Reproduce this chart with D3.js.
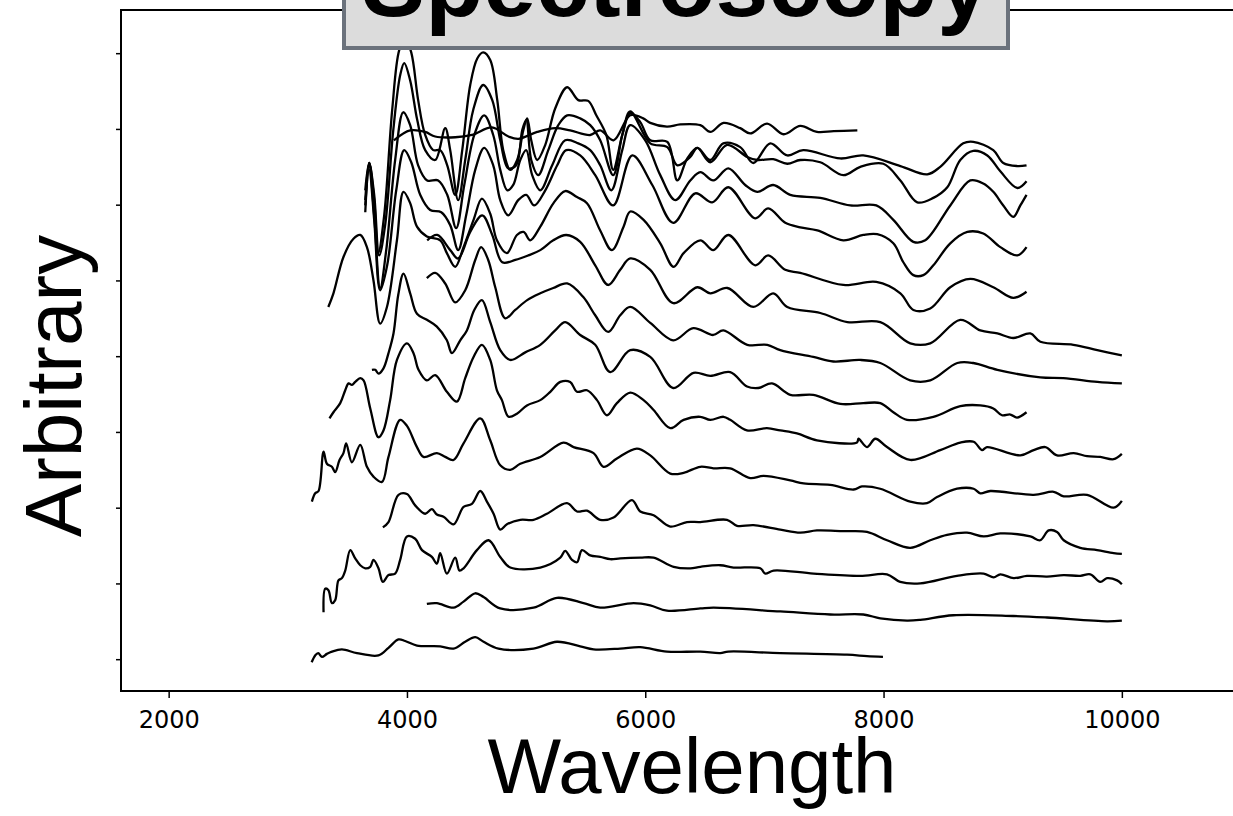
<!DOCTYPE html>
<html>
<head>
<meta charset="utf-8">
<script src="https://cdn.jsdelivr.net/npm/d3@7"></script>
<style>
  body { margin: 0; background: #fff; }
  svg { display: block; }
  .spec { fill: none; stroke: #000; stroke-width: 2.3px; stroke-linejoin: round; }
  .tick text { font-family: "DejaVu Sans", sans-serif; font-size: 24px; fill: #000; }
</style>
</head>
<body>
<svg id="chart" width="1233" height="816"></svg>
<script>
// each spectrum: [wavelength, flux + offset] (arbitrary units), top to bottom
var spec01 = [[3890,6.85],[4027,6.98],[4153,6.96],[4237,6.90],[4405,6.89],[4545,6.92],[4713,7.02],[4852,6.90],[4936,6.87],[5093,6.96],[5244,7.01],[5370,6.98],[5538,6.92],[5622,6.98],[5734,6.85],[5874,7.18],[5983,7.14],[6042,7.08],[6182,7.03],[6294,7.06],[6462,7.05],[6546,6.96],[6657,7.08],[6797,7.01],[6881,6.94],[7022,7.07],[7161,6.93],[7301,7.04],[7441,6.96],[7581,6.97],[7780,6.98]];

var spec02 = [[3650,6.06],[3683,6.55],[3725,6.06],[3759,5.36],[3809,5.86],[3876,7.25],[3935,8.04],[3985,8.20],[4036,8.01],[4094,7.38],[4153,6.92],[4220,6.72],[4279,6.72],[4338,6.52],[4405,6.13],[4464,6.72],[4531,7.58],[4590,7.93],[4640,8.01],[4699,7.91],[4758,7.38],[4808,6.72],[4867,6.46],[4925,6.59],[4976,6.98],[5009,7.14],[5043,6.85],[5093,6.59],[5161,6.79],[5244,7.27],[5345,7.55],[5438,7.38],[5521,7.37],[5589,7.18],[5673,6.92],[5731,6.46],[5807,6.92],[5874,7.21],[5958,7.09],[6042,6.85],[6185,6.83],[6269,6.32],[6353,6.61],[6437,6.75],[6546,6.59],[6655,6.81],[6797,6.76],[6907,6.55],[7049,6.81],[7192,6.65],[7326,6.72],[7637,6.61],[7830,6.65],[8141,6.51],[8367,6.40],[8476,6.50],[8669,6.81],[8753,6.83],[8921,6.72],[9005,6.55],[9123,6.51],[9200,6.52]];

var spec03 = [[3650,6.19],[3683,6.55],[3725,6.13],[3767,5.33],[3817,5.73],[3885,6.98],[3943,7.71],[3977,7.87],[4027,7.64],[4086,7.12],[4153,6.72],[4237,6.59],[4321,7.01],[4363,6.72],[4430,6.06],[4489,6.59],[4556,7.25],[4640,7.58],[4716,7.38],[4783,6.85],[4850,6.48],[4917,6.52],[4967,6.98],[5001,7.12],[5043,6.59],[5102,6.39],[5186,6.72],[5270,7.05],[5345,7.18],[5454,7.14],[5538,7.05],[5622,6.85],[5731,6.39],[5807,6.92],[5874,7.23],[6042,6.81],[6185,6.76],[6269,6.52],[6378,6.63],[6437,6.75],[6546,6.56],[6688,6.79],[6856,6.63],[6940,6.59],[7074,6.60],[7192,6.54],[7301,6.59],[7469,6.56],[7662,6.39],[7805,6.50],[7998,6.54],[8141,6.32],[8283,6.03],[8418,6.09],[8535,6.23],[8644,6.59],[8753,6.71],[8871,6.65],[8980,6.44],[9123,6.22],[9200,6.31]];

var spec04 = [[3650,5.90],[3683,6.55],[3725,5.86],[3775,4.90],[3826,5.40],[3901,6.59],[3969,7.22],[4027,7.05],[4094,6.52],[4170,6.32],[4262,6.32],[4338,6.13],[4413,5.69],[4481,6.26],[4565,6.92],[4648,7.18],[4724,6.92],[4783,6.46],[4842,6.19],[4892,6.26],[4951,6.59],[5001,6.72],[5051,6.39],[5119,6.19],[5219,6.52],[5328,6.85],[5438,6.81],[5538,6.72],[5622,6.52],[5715,6.19],[5807,6.72],[5874,7.05],[6000,6.85],[6126,6.39],[6252,6.06],[6378,6.32],[6462,6.43],[6571,6.32],[6697,6.48],[6839,6.26],[6940,6.17],[7074,6.26],[7217,6.13],[7469,6.09],[7721,5.99],[7939,5.99],[8082,5.80],[8250,5.51],[8350,5.53],[8560,5.99],[8728,6.32],[8837,6.28],[8921,6.17],[9005,5.99],[9089,5.84],[9148,5.99],[9200,6.13]];

var spec05 = [[3650,5.99],[3683,6.46],[3725,5.80],[3775,4.87],[3834,5.20],[3910,6.19],[3977,6.72],[4036,6.56],[4111,6.13],[4195,5.93],[4288,5.90],[4363,5.73],[4430,5.40],[4497,5.86],[4573,6.46],[4648,6.75],[4724,6.52],[4783,6.06],[4850,5.86],[4934,6.06],[5001,6.13],[5068,5.99],[5161,6.19],[5261,6.52],[5337,6.72],[5454,6.65],[5580,6.39],[5731,5.99],[5891,6.65],[6059,6.26],[6235,5.76],[6420,6.15],[6562,6.03],[6697,6.23],[6923,5.82],[7032,5.95],[7175,5.76],[7301,5.70],[7444,5.66],[7662,5.53],[7830,5.60],[7947,5.61],[8082,5.49],[8166,5.24],[8250,5.07],[8334,5.07],[8418,5.20],[8560,5.49],[8703,5.64],[8837,5.62],[8980,5.44],[9123,5.33],[9200,5.44]];

var spec06 = [[3340,4.65],[3383,4.83],[3467,5.31],[3551,5.55],[3608,5.60],[3664,5.44],[3719,5.00],[3775,4.43],[3832,4.65],[3916,5.53],[3971,6.17],[4027,6.02],[4084,5.71],[4167,5.58],[4279,5.53],[4335,5.36],[4405,5.18],[4475,5.44],[4559,5.80],[4629,6.08],[4699,5.88],[4755,5.53],[4839,5.36],[4923,5.60],[4979,5.64],[5035,5.53],[5119,5.71],[5230,6.02],[5328,6.18],[5427,6.10],[5511,6.02],[5622,5.66],[5720,5.40],[5818,5.71],[5874,5.91],[5986,5.80],[6126,5.49],[6238,5.18],[6322,5.36],[6462,5.53],[6571,5.40],[6697,5.60],[6923,5.20],[7032,5.33],[7175,5.14],[7301,5.10],[7662,4.94],[7939,4.98],[8141,4.83],[8250,4.61],[8392,4.63],[8560,4.91],[8728,5.02],[8921,4.91],[9089,4.77],[9200,4.85]];

var spec07 = [[4170,5.53],[4254,5.60],[4363,5.40],[4430,5.29],[4531,5.64],[4632,5.86],[4716,5.60],[4800,5.24],[4909,5.27],[5018,5.33],[5119,5.40],[5228,5.53],[5337,5.60],[5454,5.51],[5580,5.20],[5689,4.94],[5790,5.14],[5874,5.29],[6042,5.14],[6235,4.70],[6437,4.91],[6546,4.83],[6689,4.90],[6907,4.65],[7074,4.83],[7192,4.65],[7469,4.57],[7696,4.45],[7973,4.45],[8224,4.17],[8392,4.17],[8644,4.48],[8812,4.34],[8955,4.30],[9089,4.24],[9232,4.30],[9316,4.19],[9593,4.15],[9794,4.08],[10000,4.01]];

var spec08 = [[4167,5.03],[4237,5.10],[4321,4.96],[4405,4.71],[4489,4.87],[4573,5.27],[4623,5.44],[4682,5.27],[4741,4.91],[4825,4.50],[4909,4.61],[5009,4.74],[5119,4.83],[5228,4.90],[5345,4.96],[5480,4.78],[5580,4.54],[5689,4.32],[5790,4.54],[5874,4.65],[6042,4.44],[6235,4.21],[6403,4.37],[6571,4.28],[6655,4.34],[6856,4.15],[7024,4.15],[7133,4.08],[7410,3.99],[7578,3.93],[7805,3.95],[7973,3.91],[8224,3.68],[8392,3.68],[8619,3.91],[8753,3.91],[8955,3.82],[9316,3.72],[9509,3.71],[9794,3.66],[10000,3.64]];

var spec09 = [[3706,3.82],[3734,3.82],[3761,3.77],[3803,3.84],[3845,4.04],[3887,4.30],[3927,4.81],[3971,5.09],[4027,4.83],[4084,4.56],[4167,4.48],[4251,4.39],[4335,4.21],[4377,4.04],[4447,4.21],[4503,4.34],[4565,4.61],[4629,4.74],[4699,4.45],[4783,4.08],[4867,3.95],[4993,4.05],[5119,4.15],[5244,4.34],[5328,4.45],[5454,4.28],[5580,4.15],[5706,3.79],[5874,4.08],[6042,3.99],[6235,3.58],[6405,3.78],[6546,3.74],[6713,3.79],[6854,3.60],[6949,3.58],[7064,3.64],[7217,3.49],[7410,3.49],[7637,3.37],[7830,3.38],[7973,3.38],[8082,3.26],[8197,3.16],[8418,3.20],[8644,3.34],[8812,3.35],[8921,3.31],[8994,3.22],[9064,3.23],[9120,3.19],[9200,3.26]];

var spec10 = [[3350,3.18],[3383,3.26],[3440,3.38],[3482,3.55],[3510,3.64],[3538,3.62],[3566,3.66],[3608,3.71],[3636,3.68],[3692,3.31],[3761,2.93],[3803,3.02],[3859,3.42],[3916,3.95],[4000,4.17],[4055,4.04],[4097,3.82],[4167,3.68],[4237,3.75],[4335,3.53],[4419,3.40],[4489,3.71],[4559,3.99],[4629,4.15],[4699,3.95],[4755,3.55],[4797,3.42],[4853,3.20],[4923,3.24],[5007,3.35],[5119,3.42],[5203,3.53],[5287,3.66],[5370,3.66],[5427,3.53],[5511,3.55],[5595,3.42],[5678,3.22],[5762,3.38],[5874,3.52],[5986,3.42],[6070,3.29],[6210,3.05],[6322,3.16],[6462,3.20],[6546,3.16],[6657,3.20],[6713,3.16],[6853,3.02],[7021,3.05],[7133,3.02],[7273,2.98],[7441,2.89],[7777,2.86],[7790,2.91],[7861,2.80],[7931,2.91],[8029,2.80],[8224,2.63],[8476,2.76],[8644,2.86],[8756,2.87],[8826,2.76],[8868,2.80],[9148,2.69],[9260,2.76],[9358,2.80],[9456,2.69],[9596,2.72],[9708,2.68],[9819,2.67],[9931,2.64],[10000,2.71]];

var spec11 = [[3202,2.08],[3230,2.19],[3258,2.22],[3300,2.74],[3328,2.58],[3370,2.54],[3398,2.47],[3434,2.63],[3467,2.72],[3490,2.85],[3538,2.60],[3608,2.83],[3664,2.54],[3719,2.41],[3790,2.34],[3845,2.67],[3943,3.16],[4000,3.08],[4084,2.80],[4139,2.67],[4251,2.72],[4321,2.67],[4391,2.63],[4475,2.85],[4615,3.18],[4699,2.89],[4783,2.56],[4867,2.50],[4951,2.58],[5119,2.67],[5314,2.86],[5398,2.80],[5566,2.72],[5650,2.54],[5762,2.65],[5930,2.78],[6042,2.69],[6210,2.45],[6322,2.46],[6462,2.54],[6573,2.52],[6713,2.52],[6881,2.39],[6993,2.42],[7217,2.36],[7329,2.32],[7553,2.30],[7749,2.24],[7819,2.28],[7972,2.25],[8224,2.08],[8365,2.06],[8449,2.14],[8617,2.25],[8756,2.25],[8812,2.19],[8896,2.22],[9260,2.17],[9428,2.21],[9512,2.15],[9708,2.17],[9931,2.00],[10000,2.09]];

var spec12 = [[3798,1.74],[3845,1.81],[3929,2.17],[4000,2.18],[4069,2.03],[4153,1.92],[4209,1.98],[4251,1.91],[4307,1.88],[4391,1.78],[4475,2.01],[4545,2.05],[4615,2.22],[4671,2.08],[4727,1.92],[4783,1.71],[4839,1.78],[4951,1.84],[5062,1.84],[5175,1.92],[5343,2.06],[5427,1.95],[5511,1.96],[5622,1.84],[5734,1.87],[5888,2.10],[5958,1.95],[6070,1.90],[6210,1.75],[6350,1.81],[6462,1.81],[6686,1.84],[6770,1.76],[6909,1.77],[7133,1.71],[7301,1.67],[7441,1.70],[7665,1.69],[7861,1.68],[8029,1.57],[8224,1.47],[8392,1.57],[8533,1.64],[8700,1.67],[8840,1.62],[8980,1.66],[9232,1.62],[9315,1.57],[9386,1.70],[9456,1.68],[9512,1.57],[9651,1.47],[9792,1.44],[9931,1.40],[10000,1.39]];

var spec13 = [[3300,0.62],[3314,0.93],[3341,0.91],[3370,0.74],[3398,0.78],[3425,1.04],[3454,1.07],[3482,1.17],[3524,1.44],[3566,1.33],[3608,1.24],[3650,1.20],[3692,1.22],[3719,1.31],[3761,1.20],[3798,1.02],[3845,1.11],[3901,1.13],[3943,1.31],[4000,1.62],[4069,1.59],[4126,1.44],[4209,1.35],[4251,1.26],[4279,1.40],[4335,1.13],[4405,1.34],[4441,1.17],[4475,1.20],[4587,1.44],[4685,1.57],[4783,1.35],[4867,1.21],[5119,1.21],[5287,1.34],[5328,1.43],[5385,1.31],[5427,1.28],[5469,1.44],[5538,1.37],[5622,1.35],[5706,1.32],[5790,1.33],[5958,1.34],[6070,1.34],[6238,1.22],[6378,1.20],[6462,1.22],[6630,1.24],[6741,1.21],[6965,1.20],[7007,1.13],[7077,1.17],[7413,1.13],[7804,1.10],[8029,1.12],[8140,1.02],[8308,1.00],[8616,1.10],[8840,1.13],[8924,1.08],[8980,1.12],[9092,1.07],[9204,1.10],[9372,1.09],[9511,1.11],[9651,1.10],[9735,1.12],[9819,1.02],[9876,1.07],[9960,1.04],[10000,0.99]];

var spec14 = [[4167,0.73],[4251,0.74],[4391,0.68],[4475,0.76],[4573,0.87],[4643,0.82],[4783,0.67],[5062,0.68],[5259,0.81],[5482,0.74],[5622,0.68],[5902,0.74],[6042,0.71],[6182,0.64],[6462,0.67],[6573,0.68],[7133,0.63],[7553,0.59],[7830,0.59],[7973,0.54],[8197,0.51],[8309,0.52],[8585,0.58],[9089,0.57],[9372,0.55],[9876,0.50],[10000,0.51]];

var spec15 = [[3200,-0.04],[3230,0.05],[3255,0.08],[3286,0.03],[3328,0.07],[3370,0.10],[3454,0.13],[3580,0.08],[3761,0.05],[3845,0.15],[3929,0.26],[3985,0.24],[4084,0.18],[4279,0.17],[4391,0.14],[4489,0.23],[4573,0.29],[4643,0.23],[4768,0.14],[5062,0.14],[5259,0.23],[5454,0.17],[5566,0.13],[5790,0.14],[5958,0.16],[6182,0.10],[6462,0.10],[6630,0.08],[6697,0.10],[7133,0.08],[7693,0.06],[7861,0.04],[7995,0.03]];

var spectra = [spec01, spec02, spec03, spec04, spec05, spec06, spec07, spec08,
               spec09, spec10, spec11, spec12, spec13, spec14, spec15];

var xTicks = [2000, 4000, 6000, 8000, 10000];
var yTicks = [0, 1, 2, 3, 4, 5, 6, 7, 8];

var svg = d3.select("#chart");

var x = d3.scaleLinear().domain([1600, 11000]).range([121, 1241]),
    y = d3.scaleLinear().domain([-0.42, 8.57]).range([691, 10]);

var line = d3.line()
    .curve(d3.curveCatmullRom)
    .x(function(d) { return x(d[0]); })
    .y(function(d) { return y(d[1]); });

svg.append("g").selectAll("path")
    .data(spectra)
  .enter().append("path")
    .attr("class", "spec")
    .attr("d", line);

// axes
var gx = svg.append("g")
    .attr("transform", "translate(0,691)")
    .call(d3.axisBottom(x).tickValues(xTicks).tickSize(7).tickPadding(13).tickFormat(d3.format("d")));
gx.select(".domain").remove();
gx.selectAll(".tick line").attr("stroke", "#000").attr("stroke-width", 1.5);

var gy = svg.append("g")
    .attr("transform", "translate(121,0)")
    .call(d3.axisLeft(y).tickValues(yTicks).tickSize(5).tickFormat(""));
gy.select(".domain").remove();
gy.selectAll(".tick line").attr("stroke", "#000").attr("stroke-width", 1.5);

// frame
svg.append("rect")
    .attr("x", 121).attr("y", 10)
    .attr("width", 1120).attr("height", 681)
    .attr("fill", "none").attr("stroke", "#000").attr("stroke-width", 2);

// labels
svg.append("text")
    .attr("x", 692).attr("y", 793)
    .attr("text-anchor", "middle")
    .style("font", "78px 'Liberation Sans', Arial, sans-serif")
    .text("Wavelength");

svg.append("text")
    .attr("transform", "translate(81,386) rotate(-90)")
    .attr("text-anchor", "middle")
    .style("font", "80px 'Liberation Sans', Arial, sans-serif")
    .text("Arbitrary");

// title box
svg.append("rect")
    .attr("x", 344).attr("y", -60)
    .attr("width", 664).attr("height", 108)
    .attr("fill", "#dcdcdc").attr("stroke", "#6b727c").attr("stroke-width", 4);

svg.append("text")
    .attr("x", 676).attr("y", 16)
    .attr("text-anchor", "middle")
    .style("font", "bold 95px 'Liberation Sans', Arial, sans-serif")
    .text("Spectroscopy");
</script>
</body>
</html>
